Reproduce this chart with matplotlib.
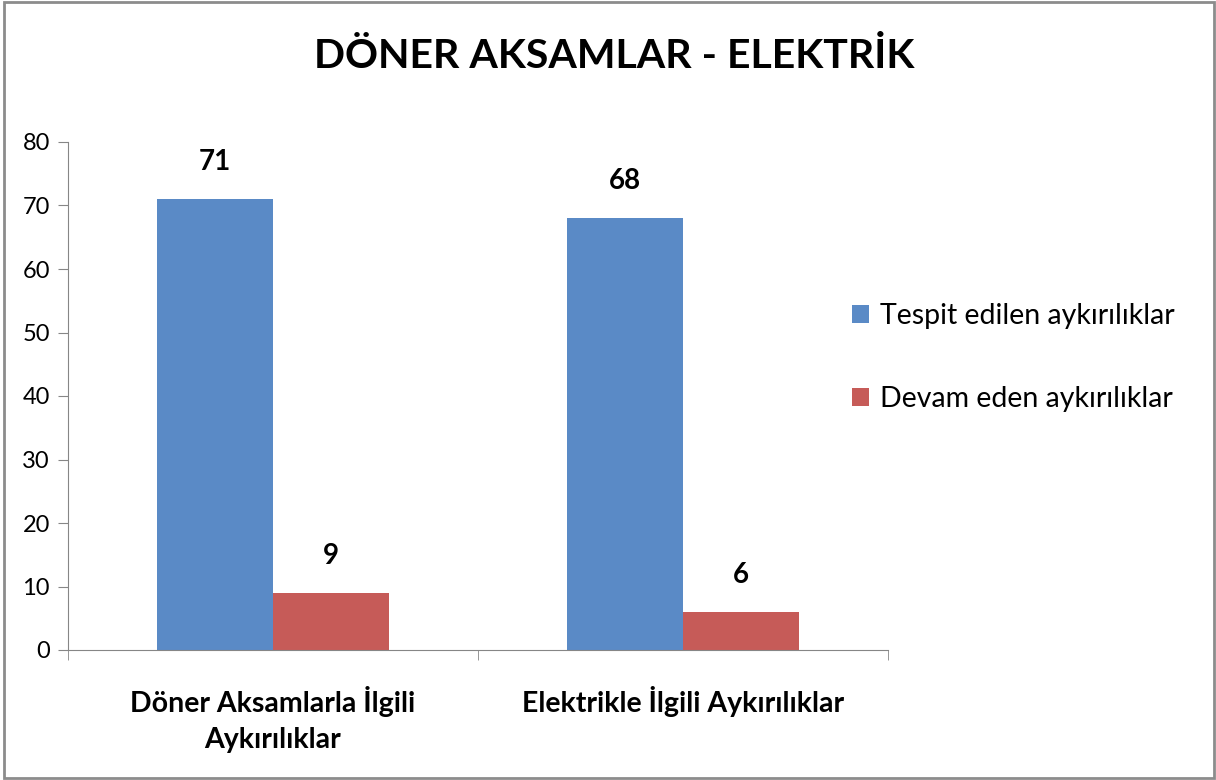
import matplotlib.pyplot as plt
from matplotlib.patches import Rectangle, Patch

plt.rcParams["font.family"] = ["Lato", "DejaVu Sans"]

categories = ["Döner Aksamlarla İlgili\nAykırılıklar", "Elektrikle İlgili Aykırılıklar"]
series_names = ["Tespit edilen aykırılıklar", "Devam eden aykırılıklar"]
tespit = [71, 68]
devam = [9, 6]
colors = ["#5A8AC6", "#C65B58"]
axis_gray = "#868686"

fig = plt.figure(figsize=(12.16, 7.8), dpi=100)
ax = fig.add_axes([68 / 1216, 1 - 650 / 780, 820 / 1216, 508 / 780])

x = list(range(len(categories)))
w = 0.283
ax.bar([i - w / 2 for i in x], tespit, width=w, color=colors[0])
ax.bar([i + w / 2 for i in x], devam, width=w, color=colors[1])

for i in x:
    ax.text(i - w / 2, tespit[i] + 3.8, str(tespit[i]), ha="center", va="bottom",
            fontsize=20, fontweight="bold")
    ax.text(i + w / 2, devam[i] + 3.8, str(devam[i]), ha="center", va="bottom",
            fontsize=20, fontweight="bold")

ax.set_xlim(-0.5, 1.5)
ax.set_ylim(0, 80)
ax.set_yticks(range(0, 81, 10))
ax.set_xticks(x)
ax.set_xticklabels(categories, fontsize=20.5, fontweight="bold", linespacing=1.45)
ax.set_xticks([-0.5, 0.5, 1.5], minor=True)
ax.tick_params(axis="x", which="major", length=0, pad=26)
ax.tick_params(axis="x", which="minor", length=7, color=axis_gray)
ax.tick_params(axis="y", length=7, color=axis_gray, labelsize=17, pad=6)

for s in ["top", "right"]:
    ax.spines[s].set_visible(False)
for s in ["left", "bottom"]:
    ax.spines[s].set_color(axis_gray)

fig.text(0.505, 1 - 56 / 780, "DÖNER AKSAMLAR - ELEKTRİK", ha="center", va="center",
         fontsize=29.5, fontweight="bold")

handles = [Patch(facecolor=c) for c in colors]
fig.legend(handles, series_names, loc="upper left", bbox_to_anchor=(826 / 1216, 1 - 277 / 780),
           frameon=False, fontsize=20.5, labelspacing=2.03, handlelength=0.6, handleheight=0.6,
           handletextpad=0.4)

fig.patches.append(Rectangle((0.003, 0.002), 0.995, 0.995, transform=fig.transFigure,
                             fill=False, edgecolor="#8c8c8c", linewidth=2))

fig.savefig("out.png", dpi=100)
